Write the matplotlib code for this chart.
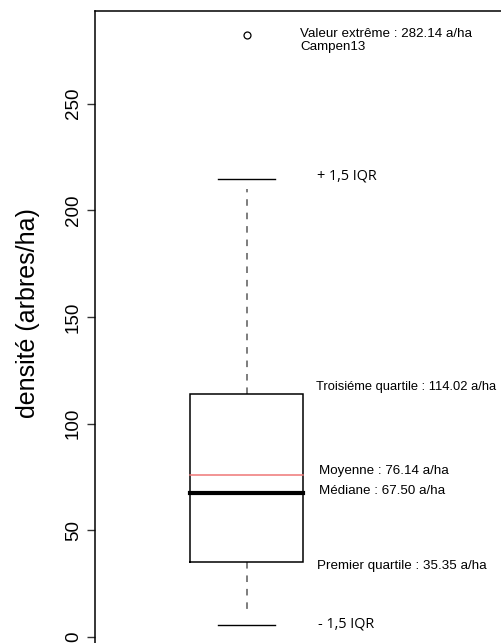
import matplotlib
matplotlib.use("Agg")
import matplotlib.pyplot as plt

plt.rcParams['font.family'] = ['Liberation Sans', 'DejaVu Sans']

# summary values (arbres/ha)
q1 = 35.35
median = 67.50
mean = 76.14
q3 = 114.02
whisker_lo = 10.3
whisker_hi = 210.0
cap_lo = 5.6
cap_hi = 214.6
outlier = 282.14
outlier_name = "Campen13"

yticks = [0, 50, 100, 150, 200, 250]

fig = plt.figure(figsize=(5.01, 6.43), dpi=100)
# axes runs past the right and bottom edges (cropped figure)
ax = fig.add_axes([95 / 501, -0.0106, 455 / 501, 0.993])
ax.set_xlim(0.5, 2.0)
ax.set_ylim(-6, 293.3)

xc = 1.0
half_box = 0.187
half_cap = 0.0946

# box
ax.plot([xc - half_box, xc + half_box, xc + half_box, xc - half_box, xc - half_box],
        [q1, q1, q3, q3, q1], color='black', lw=1.1, solid_joinstyle='miter', zorder=3)
# whiskers
ax.plot([xc, xc], [q3, whisker_hi], color='#5a5a5a', lw=1.1, ls=(0, (4.3, 4.5)))
ax.plot([xc, xc], [q1, whisker_lo], color='#5a5a5a', lw=1.1, ls=(0, (4.3, 4.5)))
ax.plot([xc - half_cap, xc + half_cap], [cap_hi, cap_hi], color='black', lw=1.0)
ax.plot([xc - half_cap, xc + half_cap], [cap_lo, cap_lo], color='black', lw=1.0)
# median and mean
ax.plot([xc - half_box, xc + half_box], [median, median], color='black', lw=3.0, zorder=4)
ax.plot([xc - half_box, xc + half_box], [mean, mean], color='#ef7676', lw=1.1, zorder=4)
# outlier
ax.plot([xc], [outlier], marker='o', ms=5, mfc='none', mec='black', mew=0.9)

fs = 9.6
ax.text(1.176, outlier + 0.3, u"Valeur extrême : %.2f a/ha" % outlier, fontsize=fs, va='center')
ax.text(1.176, outlier - 5.8, outlier_name, fontsize=fs, va='center')
ax.text(1.232, cap_hi + 1.3, "+ 1,5 IQR", fontsize=10.4, va='center', family=['Open Sans'])
ax.text(1.2286, q3 + 3.4, u"Troisiéme quartile : %.2f a/ha" % q3, fontsize=9.3, va='center')
ax.text(1.2385, mean + 1.8, u"Moyenne : %.2f a/ha" % mean, fontsize=fs, va='center')
ax.text(1.2385, median + 1.0, u"Médiane : %.2f a/ha" % median, fontsize=fs, va='center')
ax.text(1.232, q1 - 1.9, "Premier quartile : %.2f a/ha" % q1, fontsize=fs, va='center')
ax.text(1.236, cap_lo + 0.5, "- 1,5 IQR", fontsize=10.4, va='center', family=['Open Sans'])

ax.set_xticks([])
ax.set_yticks(yticks)
ax.set_yticklabels([str(v) for v in yticks], rotation=90, va='center', fontsize=13.5)
ax.tick_params(axis='y', length=5.8, width=1.0, pad=3.5, color='#333333')
for s in ax.spines.values():
    s.set_linewidth(1.1)
    s.set_color('black')

fig.text(28 / 501, 1 - 313 / 643, u"densité (arbres/ha)", rotation=90,
         ha='center', va='center', fontsize=18)

fig.savefig("out.png", dpi=100)
